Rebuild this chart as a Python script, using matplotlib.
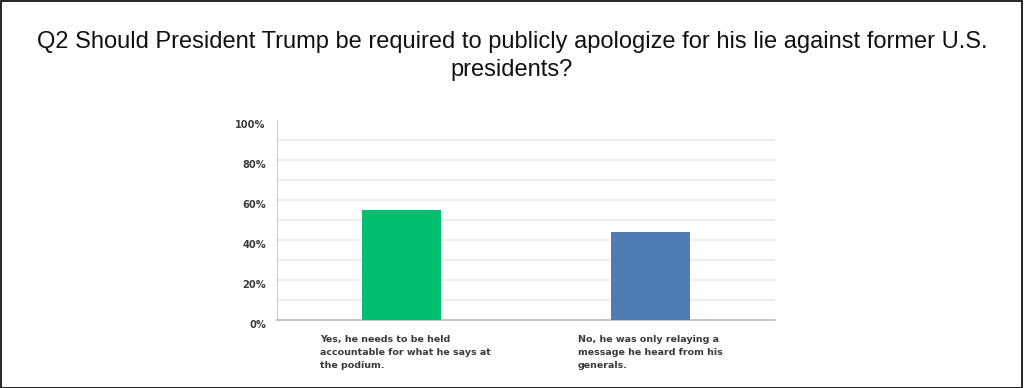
import matplotlib
matplotlib.use("Agg")
import matplotlib.pyplot as plt
from matplotlib.patches import Rectangle
from matplotlib.transforms import ScaledTranslation

categories = ["Yes, he needs to be held\naccountable for what he says at\nthe podium.",
              "No, he was only relaying a\nmessage he heard from his\ngenerals."]
values = [55, 44]
colors = ["#00c06f", "#507cb6"]
yticks = [0, 20, 40, 60, 80, 100]
ytick_labels = ["0%", "20%", "40%", "60%", "80%", "100%"]
title = "Q2 Should President Trump be required to publicly apologize for his lie against former U.S.\npresidents?"

W, H = 1024, 388
fig = plt.figure(figsize=(W / 100, H / 100), dpi=100)
fig.patch.set_facecolor("white")
fig.add_artist(Rectangle((0.0005, 0.001), 0.998, 0.997, transform=fig.transFigure,
                         fill=False, edgecolor="black", linewidth=1.2))

ax = fig.add_axes([277 / W, 1 - 320 / H, (775 - 277) / W, 200 / H])
x = list(range(len(values)))
ax.bar(x, values, width=0.32, color=colors, zorder=3)
ax.set_xlim(-0.5, 1.5)
ax.set_ylim(0, 100)
ax.set_yticks(yticks)
ax.set_yticklabels(ytick_labels)
offset = ScaledTranslation(0, -1 / 100, fig.dpi_scale_trans)
for t in ax.get_yticklabels():
    t.set_fontfamily("DejaVu Sans")
    t.set_fontweight("bold")
    t.set_fontsize(7.1)
    t.set_color("#3a3a3a")
    t.set_verticalalignment("top")
    t.set_transform(t.get_transform() + offset)
ax.tick_params(axis="y", length=0, pad=8)
ax.tick_params(axis="x", length=0, labelbottom=False)
for v in range(10, 100, 10):
    ax.axhline(v, color="#ebebeb", linewidth=1.2, zorder=1)
for s in ["top", "right"]:
    ax.spines[s].set_visible(False)
ax.spines["left"].set_color("#cccccc")
ax.spines["bottom"].set_color("#bbbbbb")
ax.spines["bottom"].set_linewidth(1.2)

label_x = [320, 578]
for lx, lab in zip(label_x, categories):
    fig.text(lx / W, 1 - 335 / H, lab, ha="left", va="top", fontsize=6.8,
             fontfamily="DejaVu Sans", fontweight="bold", color="#3a3a3a", linespacing=1.55)

fig.text(0.5, 1 - 31 / H, title, ha="center", va="top", fontsize=17,
         fontfamily="Liberation Sans", color="#111111", linespacing=1.38)

fig.savefig("out.png", dpi=100)
